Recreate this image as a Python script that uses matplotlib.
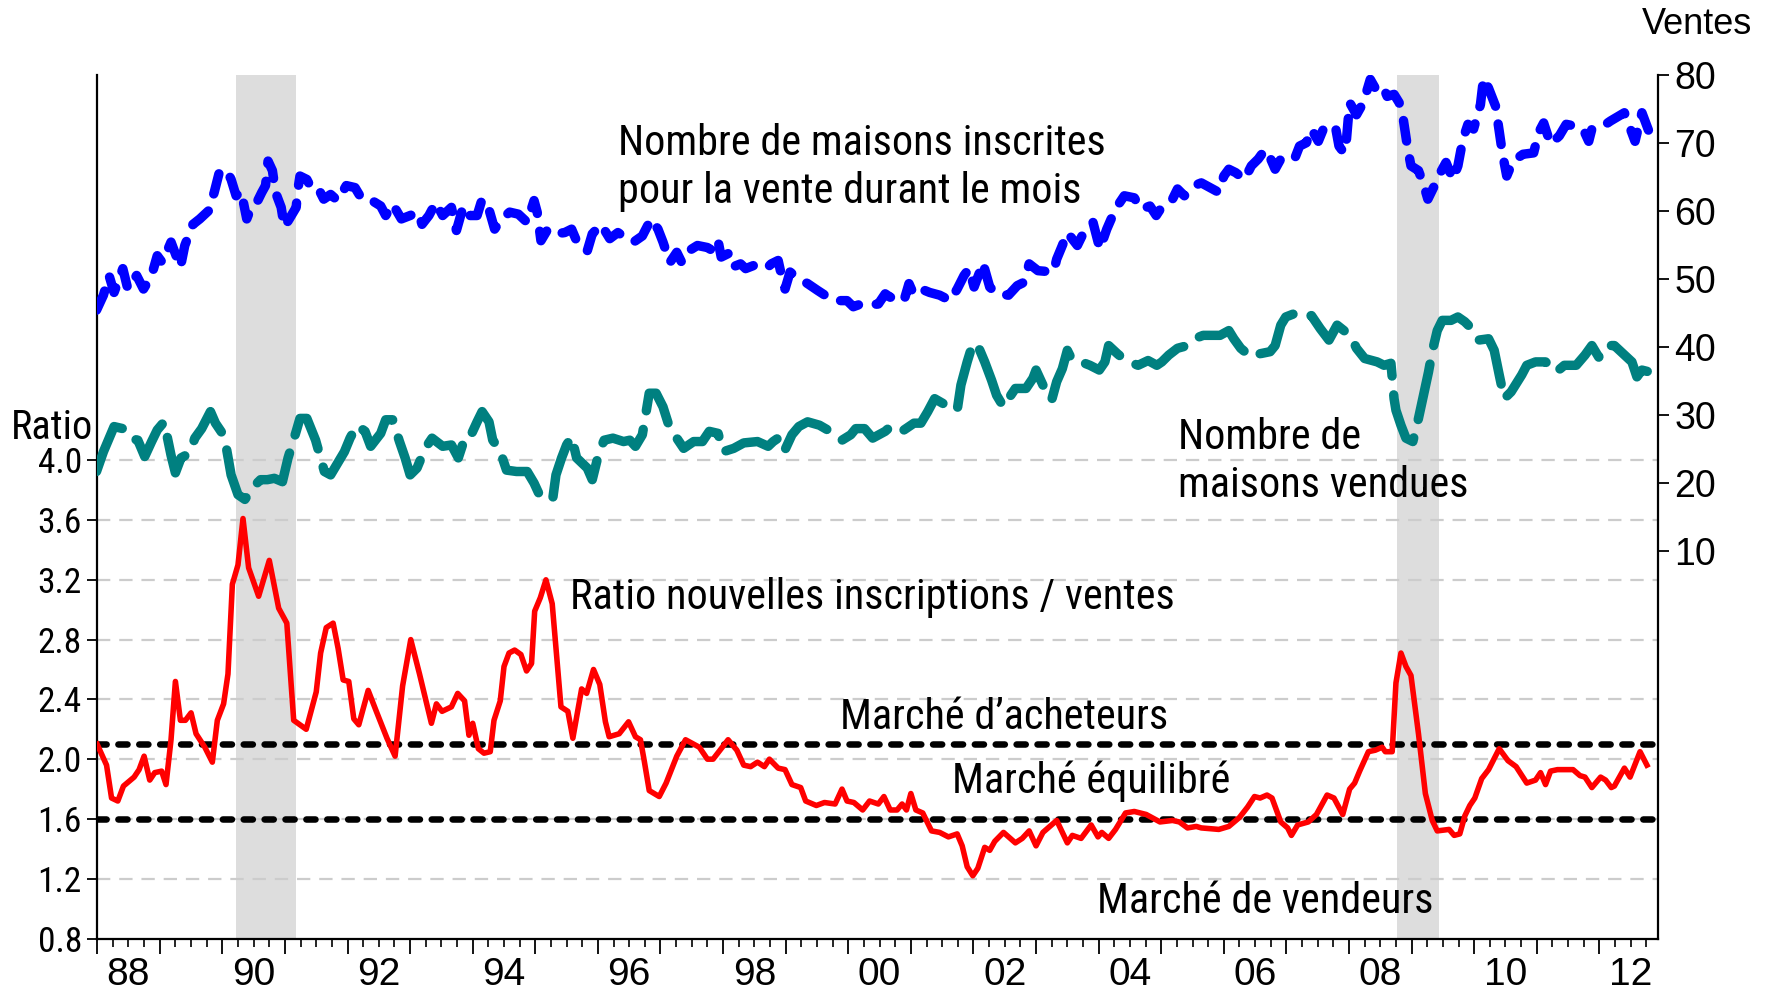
import matplotlib
matplotlib.use("Agg")
import matplotlib.pyplot as plt
from matplotlib import font_manager as fm
import numpy as np

plt.rcParams['font.family'] = ['Liberation Sans', 'DejaVu Sans']


# police etroite (type Arial Narrow) si elle est installee
def police_etroite():
    pref = ['Liberation Sans Narrow', 'Arial Narrow', 'Roboto Condensed', 'Noto Sans',
            'Open Sans', 'DejaVu Sans']
    ents = [f for f in fm.fontManager.ttflist
            if f.style == 'normal' and f.weight in (400, 'normal', 'regular')
            and (f.stretch in ('condensed', 'semi-condensed', 'extra-condensed')
                 or 'Narrow' in f.name or 'Condensed' in f.name)]
    for p in pref:
        for f in ents:
            if f.name.startswith(p):
                return f.fname
    return ents[0].fname if ents else None


NARROW_FILE = police_etroite()


def fp(size):
    if NARROW_FILE:
        return fm.FontProperties(fname=NARROW_FILE, size=size)
    return fm.FontProperties(family=['Liberation Sans', 'DejaVu Sans'], size=size * 0.88)


# --- donnees (annee decimale, valeur) ---
# ratio nouvelles inscriptions / ventes (axe gauche)
ratio_t = [1988.00, 1988.15, 1988.23, 1988.33, 1988.42, 1988.59, 1988.67, 1988.75, 1988.84, 1988.92,
           1989.03, 1989.10, 1989.18, 1989.25, 1989.33, 1989.41, 1989.50, 1989.58, 1989.72, 1989.84,
           1989.92, 1990.02, 1990.09, 1990.16, 1990.25, 1990.33, 1990.42, 1990.58, 1990.75, 1990.90,
           1991.03, 1991.14, 1991.34, 1991.50, 1991.57, 1991.66, 1991.77, 1991.85, 1991.93, 1992.02,
           1992.10, 1992.18, 1992.33, 1992.46, 1992.63, 1992.76, 1992.88, 1993.01, 1993.15, 1993.34,
           1993.42, 1993.51, 1993.66, 1993.76, 1993.87, 1993.94, 1994.00, 1994.09, 1994.18, 1994.28,
           1994.34, 1994.44, 1994.50, 1994.58, 1994.67, 1994.77, 1994.86, 1994.94, 1994.99, 1995.08,
           1995.17, 1995.27, 1995.41, 1995.52, 1995.60, 1995.74, 1995.82, 1995.93, 1996.03, 1996.12,
           1996.18, 1996.34, 1996.49, 1996.60, 1996.68, 1996.74, 1996.82, 1996.98, 1997.09, 1997.26,
           1997.40, 1997.62, 1997.75, 1997.84, 1998.08, 1998.22, 1998.33, 1998.44, 1998.55, 1998.66,
           1998.74, 1998.88, 1998.99, 1999.10, 1999.24, 1999.32, 1999.49, 1999.62, 1999.79, 1999.90,
           1999.98, 2000.09, 2000.23, 2000.34, 2000.48, 2000.57, 2000.67, 2000.78, 2000.86, 2000.93,
           2001.00, 2001.08, 2001.19, 2001.33, 2001.46, 2001.60, 2001.74, 2001.82, 2001.90, 2001.99,
           2002.07, 2002.18, 2002.26, 2002.34, 2002.48, 2002.67, 2002.78, 2002.89, 2003.00, 2003.11,
           2003.33, 2003.50, 2003.58, 2003.72, 2003.88, 2003.99, 2004.05, 2004.16, 2004.27, 2004.43,
           2004.57, 2004.76, 2004.98, 2005.18, 2005.29, 2005.42, 2005.56, 2005.64, 2005.92, 2006.08,
           2006.25, 2006.38, 2006.49, 2006.58, 2006.69, 2006.77, 2006.91, 2007.02, 2007.08, 2007.18,
           2007.35, 2007.48, 2007.65, 2007.76, 2007.90, 2008.01, 2008.09, 2008.17, 2008.31, 2008.42,
           2008.53, 2008.58, 2008.69, 2008.75, 2008.83, 2008.91, 2008.99, 2009.11, 2009.22, 2009.33,
           2009.41, 2009.60, 2009.68, 2009.77, 2009.85, 2009.93, 2010.01, 2010.12, 2010.23, 2010.40,
           2010.54, 2010.67, 2010.84, 2010.98, 2011.06, 2011.14, 2011.22, 2011.33, 2011.58, 2011.69,
           2011.77, 2011.88, 2012.02, 2012.10, 2012.19, 2012.24, 2012.40, 2012.49, 2012.65, 2012.76]
ratio = [2.10, 1.96, 1.74, 1.72, 1.82, 1.88, 1.93, 2.02, 1.86, 1.91,
         1.92, 1.83, 2.13, 2.52, 2.26, 2.26, 2.31, 2.17, 2.08, 1.98,
         2.26, 2.37, 2.57, 3.17, 3.30, 3.61, 3.28, 3.09, 3.33, 3.01,
         2.91, 2.26, 2.20, 2.45, 2.71, 2.88, 2.91, 2.74, 2.53, 2.52,
         2.27, 2.23, 2.46, 2.32, 2.14, 2.02, 2.49, 2.80, 2.57, 2.24,
         2.37, 2.32, 2.35, 2.44, 2.39, 2.16, 2.24, 2.07, 2.04, 2.05,
         2.26, 2.39, 2.62, 2.71, 2.73, 2.70, 2.59, 2.64, 2.99, 3.08,
         3.20, 3.04, 2.35, 2.32, 2.14, 2.47, 2.44, 2.60, 2.50, 2.25,
         2.15, 2.17, 2.25, 2.15, 2.13, 1.99, 1.79, 1.75, 1.84, 2.02,
         2.13, 2.08, 2.00, 2.00, 2.13, 2.06, 1.96, 1.95, 1.98, 1.95,
         2.00, 1.94, 1.93, 1.83, 1.81, 1.72, 1.69, 1.71, 1.70, 1.80,
         1.72, 1.71, 1.66, 1.72, 1.70, 1.75, 1.66, 1.66, 1.70, 1.66,
         1.77, 1.66, 1.64, 1.52, 1.51, 1.48, 1.50, 1.42, 1.28, 1.22,
         1.27, 1.41, 1.39, 1.45, 1.51, 1.44, 1.47, 1.52, 1.42, 1.51,
         1.59, 1.44, 1.49, 1.47, 1.56, 1.48, 1.51, 1.47, 1.53, 1.64,
         1.65, 1.63, 1.58, 1.59, 1.58, 1.54, 1.55, 1.54, 1.53, 1.55,
         1.61, 1.68, 1.75, 1.74, 1.76, 1.74, 1.58, 1.54, 1.49, 1.56,
         1.58, 1.63, 1.76, 1.74, 1.63, 1.80, 1.84, 1.92, 2.05, 2.06,
         2.08, 2.05, 2.05, 2.51, 2.71, 2.62, 2.56, 2.17, 1.77, 1.59,
         1.52, 1.53, 1.49, 1.50, 1.62, 1.69, 1.74, 1.87, 1.93, 2.07,
         1.99, 1.95, 1.84, 1.86, 1.91, 1.83, 1.92, 1.93, 1.93, 1.89,
         1.88, 1.81, 1.88, 1.86, 1.81, 1.82, 1.94, 1.88, 2.05, 1.96]

# nombre de maisons inscrites (axe droit, milliers)
inscr_t = [1987.99, 1988.10, 1988.19, 1988.27, 1988.41, 1988.49, 1988.63, 1988.74, 1988.87, 1988.96,
           1989.04, 1989.18, 1989.33, 1989.40, 1989.53, 1989.64, 1989.78, 1989.87, 1989.95, 1990.06,
           1990.14, 1990.22, 1990.30, 1990.39, 1990.47, 1990.55, 1990.63, 1990.69, 1990.73, 1990.80,
           1990.85, 1990.94, 1990.99, 1991.07, 1991.18, 1991.20, 1991.24, 1991.35, 1991.40, 1991.51,
           1991.62, 1991.73, 1991.84, 1991.98, 1992.12, 1992.23, 1992.39, 1992.53, 1992.61, 1992.72,
           1992.86, 1993.00, 1993.13, 1993.19, 1993.30, 1993.41, 1993.52, 1993.66, 1993.74, 1993.85,
           1993.96, 1994.07, 1994.15, 1994.26, 1994.35, 1994.46, 1994.59, 1994.73, 1994.87, 1994.98,
           1995.03, 1995.09, 1995.20, 1995.33, 1995.47, 1995.58, 1995.69, 1995.83, 1995.91, 1996.05,
           1996.19, 1996.32, 1996.43, 1996.57, 1996.71, 1996.85, 1996.96, 1997.04, 1997.15, 1997.26,
           1997.34, 1997.45, 1997.59, 1997.75, 1997.84, 1997.92, 1997.97, 1998.08, 1998.14, 1998.28,
           1998.36, 1998.50, 1998.69, 1998.77, 1998.88, 1998.94, 1998.99, 1999.07, 1999.18, 1999.35,
           1999.51, 1999.71, 1999.82, 1999.98, 2000.08, 2000.20, 2000.36, 2000.48, 2000.59, 2000.67,
           2000.78, 2000.89, 2000.97, 2001.05, 2001.22, 2001.30, 2001.46, 2001.63, 2001.74, 2001.85,
           2001.93, 2002.01, 2002.10, 2002.15, 2002.26, 2002.37, 2002.56, 2002.70, 2002.81, 2002.89,
           2003.03, 2003.28, 2003.33, 2003.42, 2003.50, 2003.66, 2003.75, 2003.91, 2004.02, 2004.13,
           2004.21, 2004.30, 2004.41, 2004.57, 2004.68, 2004.82, 2004.92, 2005.04, 2005.18, 2005.26,
           2005.37, 2005.53, 2005.64, 2005.78, 2005.92, 2006.00, 2006.08, 2006.19, 2006.33, 2006.44,
           2006.55, 2006.66, 2006.74, 2006.82, 2006.91, 2007.02, 2007.13, 2007.21, 2007.32, 2007.40,
           2007.51, 2007.59, 2007.68, 2007.79, 2007.84, 2007.92, 2007.96, 2008.01, 2008.12, 2008.23,
           2008.34, 2008.42, 2008.53, 2008.61, 2008.72, 2008.80, 2008.86, 2008.94, 2008.99, 2009.11,
           2009.19, 2009.26, 2009.35, 2009.46, 2009.55, 2009.66, 2009.74, 2009.82, 2009.90, 2009.99,
           2010.10, 2010.15, 2010.23, 2010.34, 2010.40, 2010.45, 2010.52, 2010.62, 2010.78, 2010.95,
           2011.03, 2011.11, 2011.22, 2011.36, 2011.47, 2011.63, 2011.74, 2011.83, 2011.88, 2012.02,
           2012.18, 2012.40, 2012.49, 2012.57, 2012.68, 2012.79]
inscr = [45.4, 47.6, 50.5, 48.0, 51.5, 48.5, 50.5, 48.5, 50.5, 53.4,
         52.4, 55.4, 51.7, 54.9, 58.0, 58.8, 60.0, 62.7, 65.6, 66.1,
         64.6, 62.2, 62.9, 58.8, 60.7, 61.2, 62.7, 63.7, 67.3, 65.9,
         62.7, 60.5, 57.6, 58.8, 60.5, 62.7, 65.1, 64.6, 63.7, 63.7,
         61.7, 62.4, 61.5, 63.7, 63.4, 61.7, 61.5, 60.7, 59.3, 61.0,
         58.8, 59.3, 59.8, 58.0, 59.3, 61.2, 59.3, 60.5, 57.1, 60.7,
         59.3, 59.3, 61.7, 60.2, 57.3, 58.8, 59.8, 59.5, 58.3, 61.5,
         59.8, 55.6, 57.3, 56.6, 56.8, 57.3, 54.9, 54.1, 56.6, 58.0,
         55.9, 56.8, 56.1, 55.4, 56.3, 58.8, 57.3, 55.4, 52.4, 53.9,
         52.4, 54.1, 54.9, 54.6, 54.1, 55.6, 53.2, 53.7, 51.7, 52.2,
         51.5, 52.0, 51.5, 52.2, 52.7, 50.2, 48.5, 51.0, 50.2, 49.3,
         48.3, 47.1, 46.8, 46.8, 45.9, 46.3, 46.2, 46.3, 47.8, 47.3,
         47.3, 46.8, 49.3, 47.6, 48.3, 48.0, 47.6, 46.8, 48.5, 50.5,
         51.5, 48.8, 51.0, 52.4, 48.8, 47.8, 47.6, 49.0, 49.5, 52.2,
         51.2, 51.0, 52.9, 54.9, 56.8, 54.9, 56.6, 58.3, 54.4, 57.3,
         59.0, 60.7, 62.2, 61.9, 60.2, 60.7, 59.3, 61.0, 61.7, 63.2,
         62.2, 63.7, 64.1, 63.4, 62.7, 65.1, 66.1, 65.6, 64.6, 66.6,
         67.6, 69.0, 67.8, 66.1, 67.6, 67.8, 67.6, 69.5, 70.0, 72.0,
         70.2, 72.0, 72.7, 72.0, 69.5, 68.5, 70.5, 75.9, 74.1, 75.9,
         79.3, 78.0, 78.5, 76.8, 77.1, 75.9, 73.9, 69.0, 66.6, 65.9,
         63.9, 61.7, 63.4, 65.6, 67.1, 64.6, 66.6, 70.5, 72.7, 72.0,
         75.6, 79.5, 78.0, 75.4, 71.7, 68.5, 65.1, 67.3, 68.3, 68.5,
         71.5, 72.9, 69.8, 71.0, 72.7, 72.4, 72.0, 70.2, 72.0, 72.2,
         73.2, 74.4, 72.2, 70.2, 74.4, 71.7]

# nombre de maisons vendues (axe droit, milliers)
vendu_t = [1987.99, 1988.10, 1988.27, 1988.41, 1988.52, 1988.65, 1988.76, 1988.87, 1988.96, 1989.07,
           1989.18, 1989.25, 1989.34, 1989.48, 1989.56, 1989.67, 1989.81, 1989.89, 1990.00, 1990.06,
           1990.14, 1990.25, 1990.36, 1990.50, 1990.61, 1990.72, 1990.83, 1990.96, 1991.05, 1991.18,
           1991.24, 1991.35, 1991.49, 1991.57, 1991.63, 1991.73, 1991.84, 1991.95, 1992.04, 1992.15,
           1992.28, 1992.37, 1992.53, 1992.61, 1992.72, 1992.83, 1992.92, 1993.00, 1993.11, 1993.24,
           1993.35, 1993.52, 1993.66, 1993.77, 1993.88, 1993.96, 1994.07, 1994.15, 1994.26, 1994.32,
           1994.43, 1994.54, 1994.70, 1994.87, 1994.98, 1995.09, 1995.28, 1995.33, 1995.42, 1995.50,
           1995.58, 1995.66, 1995.83, 1995.91, 1996.02, 1996.10, 1996.24, 1996.41, 1996.51, 1996.60,
           1996.71, 1996.82, 1996.93, 1997.04, 1997.15, 1997.26, 1997.37, 1997.53, 1997.67, 1997.78,
           1997.92, 1998.00, 1998.17, 1998.33, 1998.55, 1998.72, 1998.80, 1998.91, 1998.99, 1999.10,
           1999.21, 1999.35, 1999.54, 1999.71, 1999.90, 2000.04, 2000.12, 2000.26, 2000.39, 2000.59,
           2000.70, 2000.89, 2001.05, 2001.16, 2001.27, 2001.38, 2001.55, 2001.74, 2001.80, 2001.90,
           2001.99, 2002.07, 2002.18, 2002.29, 2002.37, 2002.48, 2002.56, 2002.67, 2002.84, 2002.95,
           2003.00, 2003.11, 2003.25, 2003.33, 2003.42, 2003.50, 2003.58, 2003.72, 2003.86, 2004.01,
           2004.10, 2004.16, 2004.30, 2004.43, 2004.63, 2004.79, 2004.93, 2005.01, 2005.12, 2005.26,
           2005.42, 2005.53, 2005.67, 2005.81, 2005.94, 2006.08, 2006.16, 2006.27, 2006.44, 2006.58,
           2006.74, 2006.82, 2006.91, 2006.99, 2007.13, 2007.26, 2007.40, 2007.54, 2007.68, 2007.81,
           2007.92, 2008.03, 2008.12, 2008.25, 2008.45, 2008.56, 2008.67, 2008.72, 2008.75, 2008.83,
           2008.91, 2009.02, 2009.11, 2009.19, 2009.27, 2009.33, 2009.41, 2009.49, 2009.63, 2009.74,
           2009.85, 2009.96, 2010.07, 2010.23, 2010.32, 2010.40, 2010.48, 2010.59, 2010.76, 2010.84,
           2010.98, 2011.14, 2011.31, 2011.44, 2011.63, 2011.77, 2011.88, 2011.99, 2012.10, 2012.24,
           2012.38, 2012.52, 2012.60, 2012.68, 2012.81]
vendu = [21.7, 24.6, 28.3, 28.0, 26.6, 26.3, 23.9, 26.1, 27.8, 29.0,
         24.1, 21.5, 23.7, 24.4, 26.6, 28.0, 30.5, 28.8, 27.3, 25.4,
         21.2, 18.3, 17.6, 19.5, 20.5, 20.5, 20.7, 20.2, 23.7, 27.6,
         29.5, 29.5, 26.3, 23.7, 21.7, 21.2, 22.9, 24.6, 26.6, 28.5,
         27.6, 25.4, 27.3, 29.3, 29.3, 26.1, 23.7, 21.2, 22.2, 25.1,
         26.6, 25.4, 25.6, 23.7, 26.8, 26.8, 29.0, 30.5, 29.0, 26.3,
         24.9, 21.9, 21.7, 21.7, 20.0, 17.8, 17.8, 21.2, 23.7, 25.6,
         26.8, 23.7, 22.2, 20.5, 24.6, 26.3, 26.6, 26.1, 26.3, 25.4,
         27.1, 33.2, 33.2, 31.2, 28.0, 26.6, 25.1, 26.1, 26.1, 27.6,
         27.3, 24.6, 25.1, 25.9, 26.1, 25.4, 26.1, 26.8, 24.9, 27.1,
         28.3, 29.0, 28.5, 27.6, 26.3, 27.1, 28.0, 28.0, 26.6, 27.6,
         28.5, 27.8, 28.8, 28.8, 30.5, 32.4, 31.5, 30.7, 34.4, 37.8,
         40.5, 40.2, 37.8, 35.1, 32.9, 31.2, 32.4, 33.9, 33.9, 35.4,
         36.6, 34.4, 32.2, 34.9, 36.8, 39.5, 38.0, 37.8, 37.3, 36.6,
         37.8, 40.2, 39.0, 38.0, 37.3, 38.0, 37.3, 37.8, 38.8, 39.8,
         40.2, 41.2, 41.7, 41.7, 41.7, 42.4, 41.2, 39.8, 38.5, 39.0,
         39.3, 40.2, 43.2, 44.4, 44.9, 44.4, 44.6, 42.7, 41.0, 43.2,
         42.4, 41.5, 39.8, 38.3, 37.8, 37.3, 37.6, 32.4, 30.7, 28.5,
         26.6, 26.1, 29.5, 32.9, 36.3, 39.3, 42.4, 43.9, 43.9, 44.4,
         43.7, 42.7, 41.0, 41.2, 39.5, 35.9, 32.4, 33.4, 35.9, 37.3,
         37.8, 37.8, 36.3, 37.3, 37.3, 38.8, 40.2, 38.5, 40.2, 40.2,
         39.0, 37.8, 35.6, 36.6, 36.3]

recessions = [(1990.22, 1991.18), (2008.76, 2009.43)]
seuils = [2.1, 1.6]  # marche d'acheteurs / marche de vendeurs

ratio_ticks = [0.8, 1.2, 1.6, 2.0, 2.4, 2.8, 3.2, 3.6, 4.0]
ventes_ticks = [10, 20, 30, 40, 50, 60, 70, 80]
label_years = list(range(1988, 2013, 2))

fig = plt.figure(figsize=(17.73, 9.92), dpi=100)
ax = fig.add_axes([0.0548, 0.0539, 0.9349 - 0.0548, 0.9248 - 0.0539])
ax2 = ax.twinx()

ax.set_xlim(1988.0, 2012.93)
ax.set_ylim(0.8, 6.58)
ax2.set_ylim(-46.9, 80)

for a, b in recessions:
    ax.axvspan(a, b, color='#dddddd', lw=0, zorder=0)

for v in ratio_ticks[1:]:
    ax.axhline(v, color='#cccccc', lw=1.6, ls=(0, (6, 4)), zorder=1)

for s in seuils:
    ax.axhline(s, color='black', lw=4.7, ls=(0, (1.4, 1.8)),
               dash_capstyle='round', zorder=3)

ax.plot(ratio_t, ratio, color='#ff0000', lw=4.0, zorder=4)

ax2.plot(inscr_t, inscr, color='#0000ff', lw=6.8, ls=(0, (2.2, 1.9)),
         dash_capstyle='round', solid_joinstyle='round')
ax2.plot(vendu_t, vendu, color='#008080', lw=6.8, ls=(0, (6, 2)),
         dash_capstyle='round')

# axes et graduations
for a in (ax, ax2):
    a.spines['top'].set_visible(False)
ax.spines['right'].set_visible(False)
for sp in ('left', 'bottom'):
    ax.spines[sp].set_linewidth(1.6)
ax2.spines['right'].set_linewidth(1.6)
ax2.spines['left'].set_visible(False)
ax2.spines['bottom'].set_visible(False)

ax.set_yticks(ratio_ticks, [f'{v:.1f}' for v in ratio_ticks])
ax.tick_params(axis='y', length=7, width=1.3, pad=4)
for lab in ax.get_yticklabels():
    lab.set_fontproperties(fp(25.5))
ax2.set_yticks(ventes_ticks, [str(v) for v in ventes_ticks])
ax2.tick_params(axis='y', labelsize=27, length=8, width=1.3, pad=4)

ax.set_xticks(range(1988, 2013), [''] * 25)
ax.set_xticks(np.arange(1988, 2013, 0.25), minor=True)
ax.tick_params(axis='x', which='major', length=11, width=1.3)
ax.tick_params(axis='x', which='minor', length=6, width=1.2)

sec = ax.secondary_xaxis('bottom')
sec.set_xticks([y + 0.5 for y in label_years], [f'{y % 100:02d}' for y in label_years])
sec.tick_params(length=0, labelsize=28, pad=13)
sec.spines['bottom'].set_visible(False)

fig.text(0.0293, 0.569, 'Ratio', fontproperties=fp(29), ha='center', va='center')
fig.text(0.957, 0.975, 'Ventes', fontsize=26, ha='center', va='center')

# annotations
TAILLE = 30.4
ax2.text(1996.32, 66.4, 'Nombre de maisons inscrites\npour la vente durant le mois',
         fontproperties=fp(TAILLE), ha='left', va='center', linespacing=1.22)
ax2.text(2005.27, 23.2, 'Nombre de\nmaisons vendues',
         fontproperties=fp(TAILLE), ha='left', va='center', linespacing=1.22)
ax.text(1995.56, 3.08, 'Ratio nouvelles inscriptions / ventes',
        fontproperties=fp(TAILLE), ha='left', va='center')
ax.text(2002.49, 2.28, 'Marché d\u2019acheteurs', fontproperties=fp(TAILLE),
        ha='center', va='center')
ax.text(2003.88, 1.855, 'Marché équilibré', fontproperties=fp(TAILLE),
        ha='center', va='center')
ax.text(2006.66, 1.045, 'Marché de vendeurs', fontproperties=fp(TAILLE),
        ha='center', va='center')

fig.savefig('out.png', dpi=100)
